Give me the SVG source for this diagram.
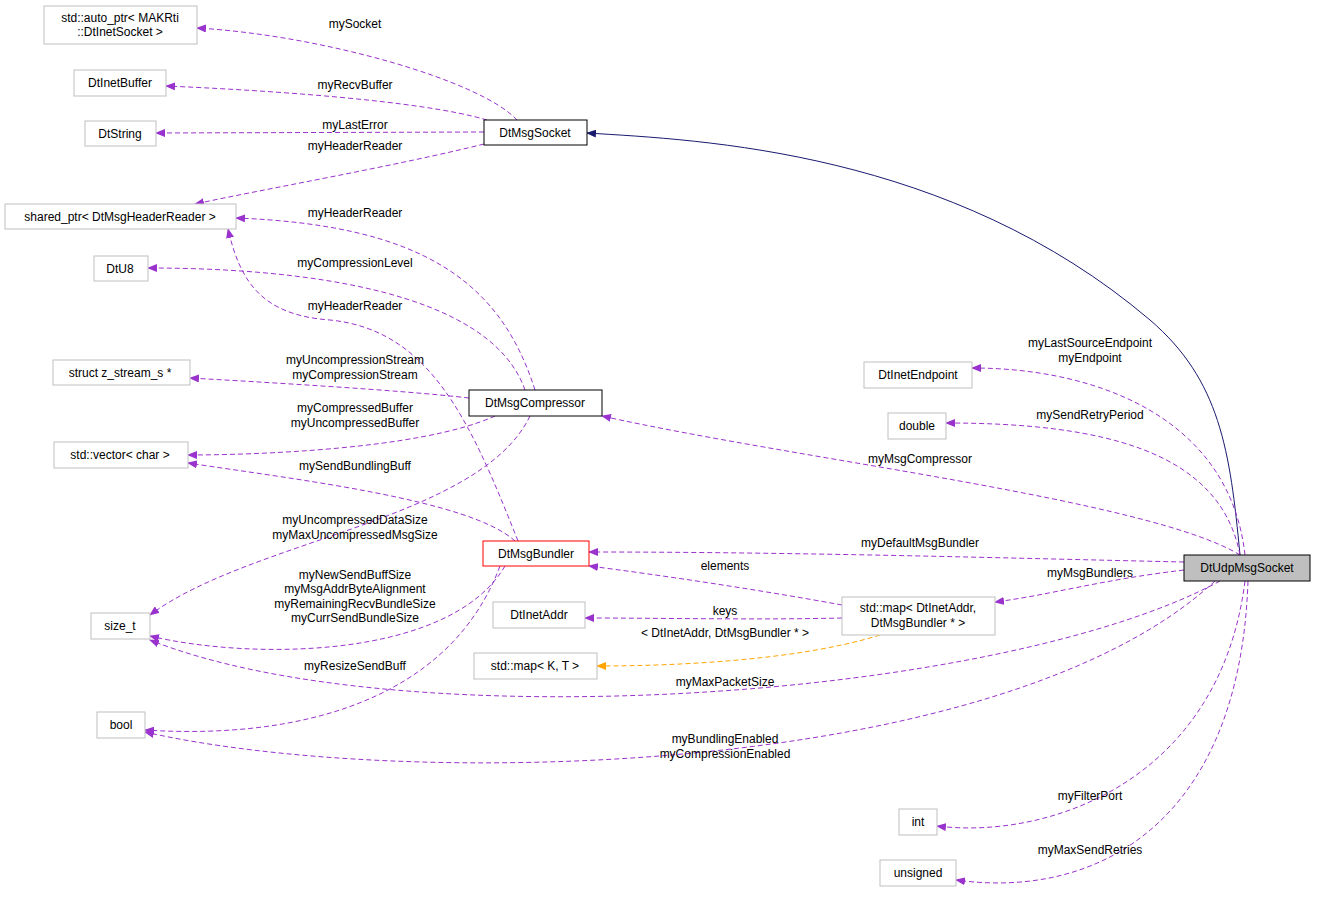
<svg xmlns="http://www.w3.org/2000/svg" width="1317" height="898" viewBox="0 0 1317 898">
<style>
.n rect{fill:#fff;stroke:#bfbfbf;stroke-width:1}
.n.b rect{stroke:#000}
.n.r rect{stroke:#f00}
.n.g rect{fill:#bfbfbf;stroke:#000}
text{font-family:"Liberation Sans",Arial,sans-serif;font-size:12px;fill:#000;text-anchor:middle}
.e path{fill:none;stroke:#9a32cd;stroke-dasharray:5,3;marker-end:url(#ap)}
.e path.o{stroke:#ffa500;marker-end:url(#ao)}
.e path.s{stroke:#191970;stroke-dasharray:none;marker-end:url(#an)}
</style>
<defs>
<marker id="ap" markerWidth="10" markerHeight="8" refX="9" refY="4" orient="auto" markerUnits="userSpaceOnUse"><path d="M0,0L10,4L0,8z" fill="#9a32cd"/></marker>
<marker id="ao" markerWidth="10" markerHeight="8" refX="9" refY="4" orient="auto" markerUnits="userSpaceOnUse"><path d="M0,0L10,4L0,8z" fill="#ffa500"/></marker>
<marker id="an" markerWidth="10" markerHeight="8" refX="9" refY="4" orient="auto" markerUnits="userSpaceOnUse"><path d="M0,0L10,4L0,8z" fill="#191970"/></marker>
</defs>
<rect width="1317" height="898" fill="#fff"/>
<g class="e">
<path class="s" d="M1240,555 C1230,450 1220,380 1150,320 C950,150 700,140 587,133"/>
<path d="M517,120 C480,80 320,35 197,28"/>
<path d="M487,120 C420,100 260,90 166,86"/>
<path d="M484,132 L156,133"/>
<path d="M484,144 C400,165 260,190 195,204"/>
<path d="M535,390 C500,280 420,225 236,218"/>
<path d="M525,390 C490,290 300,268 148,268"/>
<path d="M469,398 C400,390 260,382 190,378"/>
<path d="M495,416 C420,450 250,455 188,455"/>
<path d="M530,416 C480,520 250,540 150,615"/>
<path d="M515,541 C470,500 300,480 188,463"/>
<path d="M518,541 C470,420 430,330 330,320 C260,315 240,280 228,229"/>
<path d="M505,566 C450,660 250,660 150,636"/>
<path d="M500,566 C450,700 300,740 145,730"/>
<path d="M1184,562 C1000,558 800,552 589,552"/>
<path d="M1184,570 C1100,580 1050,595 995,602"/>
<path d="M842,605 C760,590 660,575 589,566"/>
<path d="M842,618 C760,620 660,618 585,618"/>
<path class="o" d="M880,635 C800,660 680,666 597,666"/>
<path d="M1240,555 C1150,500 800,460 602,416"/>
<path d="M1245,555 C1230,420 1100,368 972,368"/>
<path d="M1240,555 C1220,450 1100,423 946,423"/>
<path d="M1220,581 C1000,700 400,740 150,640"/>
<path d="M1215,581 C1000,780 400,790 145,732"/>
<path d="M1245,581 C1220,780 1050,840 937,826"/>
<path d="M1248,581 C1240,820 1100,900 956,880"/>
</g>
<g>
<text x="355" y="28">mySocket</text>
<text x="355" y="89">myRecvBuffer</text>
<text x="355" y="129">myLastError</text>
<text x="355" y="150">myHeaderReader</text>
<text x="355" y="217">myHeaderReader</text>
<text x="355" y="267">myCompressionLevel</text>
<text x="355" y="310">myHeaderReader</text>
<text x="355" y="364">myUncompressionStream</text>
<text x="355" y="379">myCompressionStream</text>
<text x="355" y="412">myCompressedBuffer</text>
<text x="355" y="427">myUncompressedBuffer</text>
<text x="355" y="470">mySendBundlingBuff</text>
<text x="355" y="524">myUncompressedDataSize</text>
<text x="355" y="539">myMaxUncompressedMsgSize</text>
<text x="355" y="579">myNewSendBuffSize</text>
<text x="355" y="593">myMsgAddrByteAlignment</text>
<text x="355" y="608">myRemainingRecvBundleSize</text>
<text x="355" y="622">myCurrSendBundleSize</text>
<text x="355" y="670">myResizeSendBuff</text>
<text x="920" y="547">myDefaultMsgBundler</text>
<text x="1090" y="577">myMsgBundlers</text>
<text x="725" y="570">elements</text>
<text x="725" y="615">keys</text>
<text x="725" y="637">&lt; DtInetAddr, DtMsgBundler * &gt;</text>
<text x="920" y="463">myMsgCompressor</text>
<text x="1090" y="347">myLastSourceEndpoint</text>
<text x="1090" y="362">myEndpoint</text>
<text x="1090" y="419">mySendRetryPeriod</text>
<text x="725" y="686">myMaxPacketSize</text>
<text x="725" y="743">myBundlingEnabled</text>
<text x="725" y="758">myCompressionEnabled</text>
<text x="1090" y="800">myFilterPort</text>
<text x="1090" y="854">myMaxSendRetries</text>
</g>
<g id="auto_ptr" class="n"><rect x="44" y="6" width="153" height="38"/><text x="120" y="22">std::auto_ptr&lt; MAKRti</text><text x="120" y="36">::DtInetSocket &gt;</text></g>
<g id="DtInetBuffer" class="n"><rect x="74" y="70" width="92" height="26"/><text x="120" y="87">DtInetBuffer</text></g>
<g id="DtString" class="n"><rect x="85" y="121" width="71" height="25"/><text x="120" y="138">DtString</text></g>
<g id="DtMsgSocket" class="n b"><rect x="484" y="120" width="103" height="25"/><text x="535" y="137">DtMsgSocket</text></g>
<g id="shared_ptr" class="n"><rect x="5" y="204" width="231" height="25"/><text x="120" y="221">shared_ptr&lt; DtMsgHeaderReader &gt;</text></g>
<g id="DtU8" class="n"><rect x="94" y="256" width="54" height="25"/><text x="120" y="273">DtU8</text></g>
<g id="z_stream" class="n"><rect x="53" y="360" width="137" height="25"/><text x="120" y="377">struct z_stream_s *</text></g>
<g id="DtMsgCompressor" class="n b"><rect x="469" y="390" width="133" height="26"/><text x="535" y="407">DtMsgCompressor</text></g>
<g id="vector" class="n"><rect x="54" y="442" width="134" height="26"/><text x="120" y="459">std::vector&lt; char &gt;</text></g>
<g id="DtInetEndpoint" class="n"><rect x="864" y="362" width="108" height="26"/><text x="918" y="379">DtInetEndpoint</text></g>
<g id="double" class="n"><rect x="888" y="413" width="58" height="26"/><text x="917" y="430">double</text></g>
<g id="DtMsgBundler" class="n r"><rect x="483" y="541" width="106" height="25"/><text x="536" y="558">DtMsgBundler</text></g>
<g id="DtUdpMsgSocket" class="n g"><rect x="1184" y="555" width="126" height="26"/><text x="1247" y="572">DtUdpMsgSocket</text></g>
<g id="map" class="n"><rect x="842" y="597" width="153" height="38"/><text x="918" y="612">std::map&lt; DtInetAddr,</text><text x="918" y="627">DtMsgBundler * &gt;</text></g>
<g id="DtInetAddr" class="n"><rect x="493" y="602" width="92" height="26"/><text x="539" y="619">DtInetAddr</text></g>
<g id="size_t" class="n"><rect x="91" y="613" width="59" height="26"/><text x="120" y="630">size_t</text></g>
<g id="mapKT" class="n"><rect x="474" y="653" width="123" height="26"/><text x="535" y="670">std::map&lt; K, T &gt;</text></g>
<g id="bool" class="n"><rect x="97" y="712" width="48" height="26"/><text x="121" y="729">bool</text></g>
<g id="int" class="n"><rect x="899" y="809" width="38" height="26"/><text x="918" y="826">int</text></g>
<g id="unsigned" class="n"><rect x="880" y="860" width="76" height="26"/><text x="918" y="877">unsigned</text></g>
</svg>
